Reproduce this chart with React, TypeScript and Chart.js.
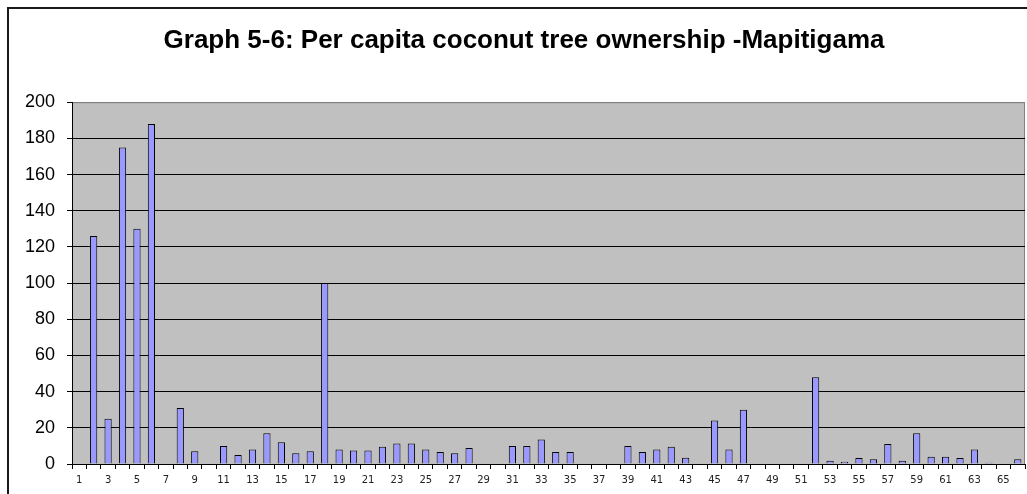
import { useEffect, useRef } from 'react';
import Chart from 'chart.js/auto';

// household number 1..66
const households: string[] = Array.from({ length: 66 }, (_, i) => String(i + 1));

// coconut trees per capita
const treesPerCapita: number[] = [
  0, 126, 25, 175, 130, 188, 0, 31, 7, 0,
  10, 5, 8, 17, 12, 6, 7, 100, 8, 7.5,
  7.5, 9.6, 11.4, 11.4, 8, 6.6, 6, 8.8, 0, 0,
  10, 10, 13.6, 6.6, 6.6, 0, 0, 0, 10, 6.6,
  8, 9.6, 3.5, 0, 24, 8, 30, 0, 0, 0,
  0, 48, 1.8, 1.3, 3.3, 2.6, 11, 1.8, 17, 4,
  4, 3.3, 8, 0.7, 0, 2.6,
];

const yTicks: number[] = [0, 20, 40, 60, 80, 100, 120, 140, 160, 180, 200];

const titleText = 'Graph 5-6: Per capita coconut tree ownership -Mapitigama';

// grey plot area with a thin grey frame, like the old Excel charts
const plotBackground = {
  id: 'plotBackground',
  beforeDraw(chart: Chart) {
    const { ctx, chartArea } = chart;
    const { left, top, right, bottom } = chartArea;
    ctx.save();
    ctx.fillStyle = '#C0C0C0';
    ctx.fillRect(left, top, right - left, bottom - top);
    ctx.strokeStyle = '#808080';
    ctx.lineWidth = 1;
    ctx.beginPath();
    ctx.moveTo(left, top + 0.5);
    ctx.lineTo(right - 0.5, top + 0.5);
    ctx.lineTo(right - 0.5, bottom);
    ctx.stroke();
    ctx.restore();
  },
};

export default function App() {
  const canvasRef = useRef<HTMLCanvasElement>(null);
  const chartRef = useRef<Chart | null>(null);

  useEffect(() => {
    const ctx = canvasRef.current?.getContext('2d');
    if (!ctx) return;
    chartRef.current?.destroy();

    chartRef.current = new Chart(ctx, {
      type: 'bar',
      data: {
        labels: households,
        datasets: [{
          data: treesPerCapita,
          backgroundColor: '#9999FF',
          borderColor: '#000000',
          borderWidth: 1,
          categoryPercentage: 1,
          barPercentage: 0.5,
        }],
      },
      options: {
        responsive: true,
        maintainAspectRatio: false,
        animation: false,
        layout: { padding: { left: 23, right: 2, top: 0, bottom: 0 } },
        plugins: {
          legend: { display: false },
          tooltip: { enabled: false },
          title: {
            display: true,
            text: titleText,
            color: '#000000',
            font: { family: '"Liberation Sans", Arial, sans-serif', size: 26, weight: 'bold' },
            padding: { top: 25, bottom: 46 },
          },
        },
        scales: {
          x: {
            grid: {
              drawOnChartArea: false,
              drawTicks: true,
              tickLength: 5,
              tickColor: '#000000',
            },
            border: { display: true, color: '#000000', width: 1 },
            ticks: {
              autoSkip: false,
              maxRotation: 0,
              minRotation: 0,
              padding: 5,
              color: '#222222',
              font: { family: '"DejaVu Sans", Verdana, sans-serif', size: 10 },
              callback: (_v, i) => (i % 2 === 0 ? households[i] : ''),
            },
            afterFit: (scale) => { scale.height = 30; },
          },
          y: {
            min: 0,
            max: 200,
            afterBuildTicks: (scale) => { scale.ticks = yTicks.map((v) => ({ value: v })); },
            grid: {
              color: (c) => (c.tick && c.tick.value === 200 ? '#808080' : '#000000'),
              lineWidth: 1,
              drawTicks: true,
              tickLength: 5,
              tickColor: '#000000',
            },
            border: { display: true, color: '#000000', width: 1 },
            ticks: {
              padding: 12,
              color: '#000000',
              font: { family: '"Liberation Sans", Arial, sans-serif', size: 18 },
            },
            afterFit: (scale) => { scale.width = 49; },
          },
        },
      },
      plugins: [plotBackground],
    });

    return () => {
      chartRef.current?.destroy();
      chartRef.current = null;
    };
  }, []);

  return (
    <div style={{ position: 'fixed', left: 0, top: 0, width: 1027, height: 494, overflow: 'hidden', background: '#fff' }}>
      <div style={{ position: 'absolute', left: 7, top: 7, width: 1100, height: 600, border: '2px solid #1a1a1a' }} />
      <div style={{ position: 'absolute', left: 0, top: 0, width: 1027, height: 494 }}>
        <canvas ref={canvasRef}></canvas>
      </div>
    </div>
  );
}
